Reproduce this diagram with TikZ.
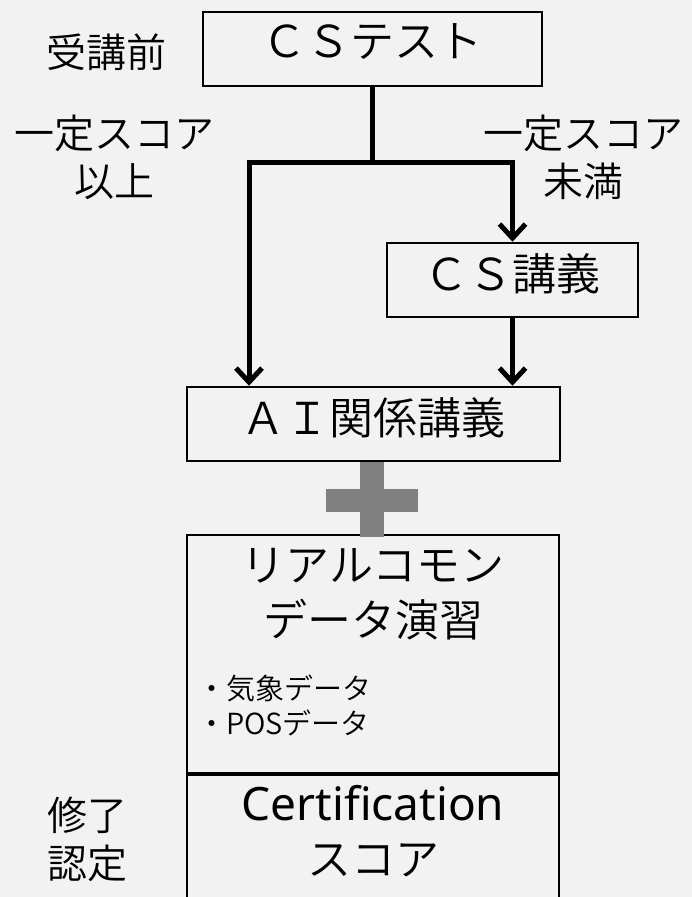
\documentclass[tikz,border=0pt]{standalone}
\usepackage{fontspec}
\setmainfont{Noto Sans CJK JP DemiLight}
\newfontfamily\latinfont{Noto Sans}
\usetikzlibrary{arrows.meta}
\definecolor{bg}{HTML}{F2F2F2}
\definecolor{plusgray}{HTML}{808080}
\begin{document}
\begin{tikzpicture}[x=1pt,y=-1pt,
  box/.style={draw=black,line width=2.5pt,inner sep=0pt},
  bigtxt/.style={inner sep=0pt,align=center,font=\fontsize{44pt}{55pt}\selectfont},
  intxt/.style={text depth=16pt},
  labtxt/.style={inner sep=0pt,align=center,font=\fontsize{40pt}{48pt}\selectfont},
  conn/.style={line width=5pt},
  arr/.style={line width=5pt,-{Straight Barb[length=14pt,width=26pt]}}]
\path[use as bounding box,fill=bg] (0,0) rectangle (692,897);
\clip (0,0) rectangle (692,897);
% boxes
\node[box,bigtxt,intxt,minimum width=339pt,minimum height=74pt] (cstest) at (372.5,49) {ＣＳテスト};
\node[box,bigtxt,intxt,minimum width=251pt,minimum height=74pt] (cs) at (512.5,280) {ＣＳ講義};
\node[box,bigtxt,intxt,minimum width=373pt,minimum height=74pt] (ai) at (373.5,424) {ＡＩ関係講義};
\node[box,minimum width=372pt,minimum height=238pt] (rc) at (373,654) {};
\node[box,minimum width=372pt,minimum height=140pt,anchor=north] (cert) at (373,773) {};
% texts in boxes
\node[bigtxt] (rct) at (373,594.5) {リアルコモン\\データ演習};
\node[inner sep=0pt,align=left,anchor=west,font=\fontsize{29pt}{35pt}\selectfont] (bul) at (197,705) {・気象データ\\・POSデータ};
\node[bigtxt] (certt) at (373,831.5) {{\latinfont\fontsize{46pt}{55pt}\selectfont Certification}\\スコア};
% side labels
\node[labtxt] (pre) at (106,52) {受講前};
\node[labtxt] (above) at (114,157) {一定スコア\\以上};
\node[labtxt] (below) at (583,157) {一定スコア\\未満};
\node[labtxt] (done) at (87,839) {修了\\認定};
% connectors
\coordinate (j) at (372.5,162);
\coordinate (jl) at (249,162);
\draw[conn] (cstest.south) -- (j);
\draw[arr] (j) -| (jl |- ai.north);
\draw[arr] (j) -| (cs.north);
\draw[arr] (cs.south) -- (cs.south |- ai.north);
% plus sign
\fill[plusgray] (360,462) rectangle (384,537);
\fill[plusgray] (326,489) rectangle (418,512);
\end{tikzpicture}
\end{document}
